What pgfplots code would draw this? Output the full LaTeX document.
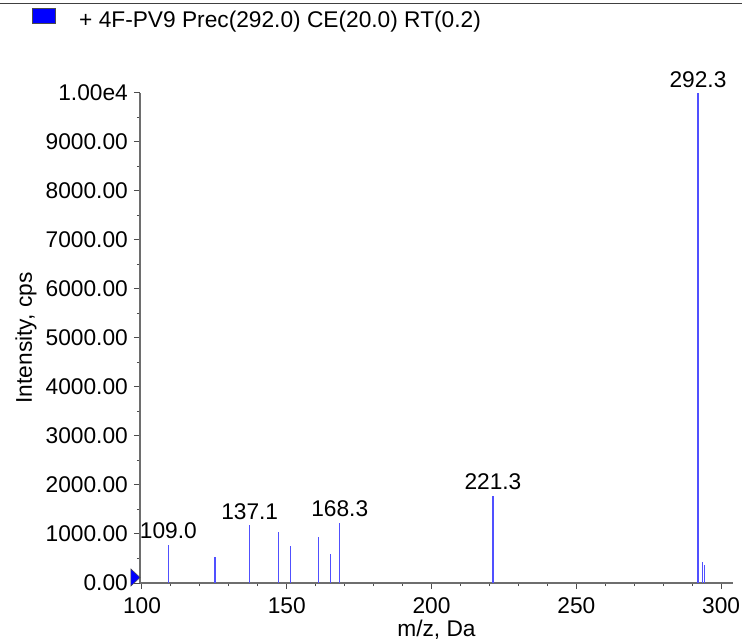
\documentclass[border=0pt]{standalone}
\usepackage{pgfplots}
\pgfplotsset{compat=1.18}
\usepackage{fontspec}
\setmainfont{Liberation Sans}
\newcommand\f{\fontsize{22.8}{27}\selectfont}
\definecolor{peak}{RGB}{80,80,255}
\definecolor{axgray}{RGB}{110,110,110}
% right-pointing marker at the zero line
\pgfdeclareplotmark{rtri}{%
  \pgfpathmoveto{\pgfpoint{-9bp}{-3bp}}%
  \pgfpathlineto{\pgfpoint{0bp}{5.5bp}}%
  \pgfpathlineto{\pgfpoint{-9bp}{14bp}}%
  \pgfpathclose
  \pgfusepathqfillstroke}

\begin{document}
\begin{tikzpicture}[font=\f]
\path[use as bounding box] (0,0) rectangle (742bp,641bp);
\draw[line width=1.5bp, black!75] (0,637.5bp) -- (742bp,637.5bp);
\filldraw[fill=blue, draw=black!70, line width=0.6bp] (32bp,618bp) rectangle (55bp,633bp);
\node[anchor=base west, inner sep=0pt] at (79bp,613bp) {+ 4F-PV9 Prec(292.0) CE(20.0) RT(0.2)};
\begin{axis}[
    at={(140bp,58bp)}, anchor=south west,
    scale only axis, width=593bp, height=490bp,
    xmin=99.31, xmax=304.1, ymin=0, ymax=10000,
    scaled y ticks=false, scaled x ticks=false,
    axis x line*=bottom, axis y line*=left,
    axis line style={axgray, line width=1.3bp, -},
    tick align=outside,
    major tick length=6bp, minor tick length=3bp,
    tick style={black!70, line width=1bp},
    xtick={100,150,...,300}, minor x tick num=4,
    xticklabels={100,150,200,250,300},
    ytick={0,1000,...,10000}, minor y tick num=1,
    yticklabels={0.00,1000.00,2000.00,3000.00,4000.00,5000.00,6000.00,7000.00,8000.00,9000.00,1.00e4},
    xticklabel style={font=\f, inner sep=0pt, anchor=north, yshift=-8bp},
    yticklabel style={font=\f, inner sep=0pt, anchor=east, xshift=-6bp},
    xlabel={m/z, Da},
    xlabel style={at={(axis description cs:0.5,-0.1102)}, anchor=base, inner sep=0pt, font=\f},
    ylabel={Intensity, cps},
    ylabel style={at={(axis description cs:-0.1922,0.5)}, anchor=center, inner sep=0pt, font=\f},
    clip=false,
]
\addplot[ycomb, peak, line width=1.1bp, mark=none] coordinates {
  (125.2,537) (147.2,1040) (151.2,761) (161.1,945) (165.0,598)
  (293.6,420) (294.1,373)
};
\addplot[ycomb, peak, line width=1.1bp, mark=none,
    nodes near coords, point meta=explicit symbolic,
    every node near coord/.append style={font=\f, inner sep=0pt, yshift=5bp, text=black}]
  table[meta=label] {
x y label
109.1 782 109.0
137.2 1176 137.1
168.3 1231 168.3
221.2 1782 221.3
292.0 10000 292.3
};
\addplot[only marks, mark=rtri, mark options={fill=blue, draw=black!70, line width=0.5bp}]
  coordinates {(99.31,0)};
\end{axis}
\end{tikzpicture}
\end{document}
